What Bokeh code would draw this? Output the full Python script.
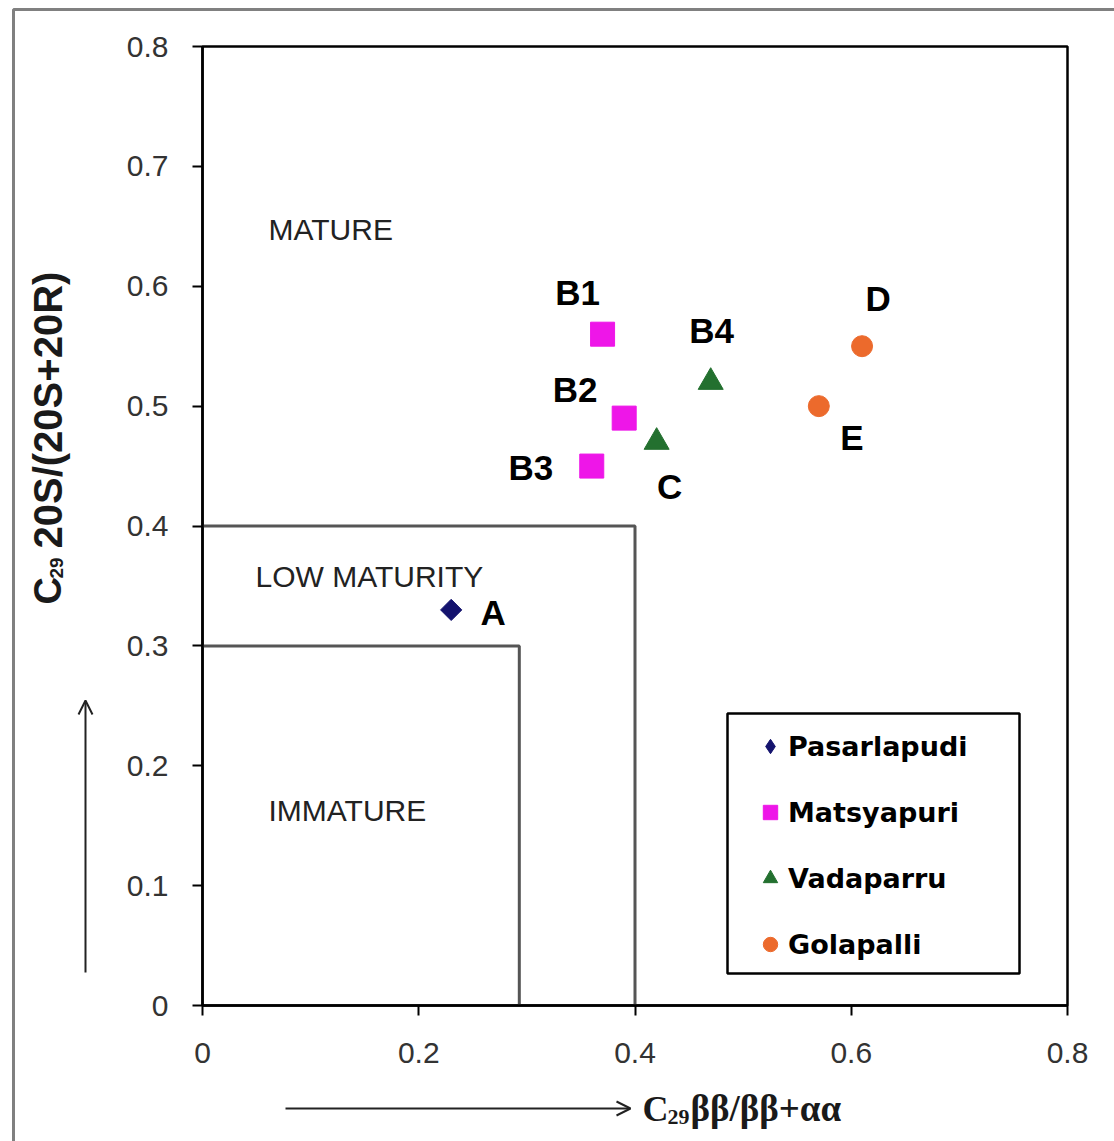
import math
from bokeh.plotting import figure
from bokeh.core.properties import value
from bokeh.models import (Range1d, FixedTicker, ColumnDataSource, LabelSet, Label,
                          Arrow, OpenHead, Legend, LegendItem, BoxAnnotation)
from bokeh.embed import file_html
from bokeh.resources import INLINE

# ---------------- data ----------------
sites = ["Pasarlapudi", "Matsyapuri", "Vadaparru", "Golapalli"]

pasarlapudi_x = [0.23]
pasarlapudi_y = [0.33]
pasarlapudi_names = ["A"]

matsyapuri_x = [0.37, 0.39, 0.36]
matsyapuri_y = [0.56, 0.49, 0.45]
matsyapuri_names = ["B1", "B2", "B3"]

vadaparru_x = [0.42, 0.47]
vadaparru_y = [0.47, 0.52]
vadaparru_names = ["C", "B4"]

golapalli_x = [0.61, 0.57]
golapalli_y = [0.55, 0.50]
golapalli_names = ["D", "E"]

# maturity zone boundaries
low_maturity_x = [0, 0.4, 0.4]
low_maturity_y = [0.4, 0.4, 0]
immature_x = [0, 0.293, 0.293]
immature_y = [0.3, 0.3, 0]

zone_names = ["MATURE", "LOW MATURITY", "IMMATURE"]

x_ticks = [0, 0.2, 0.4, 0.6, 0.8]
x_tick_labels = ["0", "0.2", "0.4", "0.6", "0.8"]
y_ticks = [0, 0.1, 0.2, 0.3, 0.4, 0.5, 0.6, 0.7, 0.8]
y_tick_labels = ["0", "0.1", "0.2", "0.3", "0.4", "0.5", "0.6", "0.7", "0.8"]

# ---------------- layout helpers ----------------
W, H = 1114, 1141
FL, FR, FT, FB = 202, 1067, 46, 1005   # pixel position of the 0..0.8 box
XMAX, YMAX = 0.8, 0.8


def dx(px):
    return (px - FL) / (FR - FL) * XMAX


def dy(py):
    return (FB - py) / (FB - FT) * YMAX


p = figure(width=W, height=H, output_backend="svg", toolbar_location=None,
           x_range=Range1d(dx(0), dx(W)), y_range=Range1d(dy(H), dy(0)),
           min_border=0)
p.background_fill_color = "white"
p.border_fill_color = "white"
p.outline_line_color = None
p.grid.visible = False

for ax, ticks, labels in ((p.xaxis[0], x_ticks, x_tick_labels), (p.yaxis[0], y_ticks, y_tick_labels)):
    ax.fixed_location = 0
    ax.bounds = (0, 0.8)
    ax.ticker = FixedTicker(ticks=ticks)
    ax.major_label_overrides = {t: l for t, l in zip(ticks, labels)}
    ax.axis_line_color = "black"
    ax.axis_line_width = 2.5
    ax.major_tick_line_color = "black"
    ax.major_tick_line_width = 2
    ax.major_tick_out = 10
    ax.major_tick_in = 0
    ax.minor_tick_line_color = None
    ax.major_label_text_font = "Liberation Sans"
    ax.major_label_text_font_size = "30px"
    ax.major_label_text_color = "#333333"
p.yaxis[0].major_label_standoff = 24
p.xaxis[0].major_label_standoff = 27

# chart box (top and right edges)
p.add_layout(BoxAnnotation(left=0, right=XMAX, bottom=0, top=YMAX, fill_alpha=0,
                           line_color="black", line_alpha=1, line_width=2.5, level="underlay"))

# zone boundaries
p.line(low_maturity_x, low_maturity_y, line_color="#555555", line_width=3)
p.line(immature_x, immature_y, line_color="#555555", line_width=3)

# zone labels
zone_pos = [(268, 229), (255, 576), (268, 810)]
for name, (px, py) in zip(zone_names, zone_pos):
    p.add_layout(Label(x=dx(px), y=dy(py), text=name, text_align="left", text_baseline="middle",
                       text_font="Liberation Sans", text_font_size="30px", text_color="#222222"))

# series
series = [
    (sites[0], pasarlapudi_x, pasarlapudi_y, pasarlapudi_names, "square", "#14136e", 15, math.pi / 4),
    (sites[1], matsyapuri_x, matsyapuri_y, matsyapuri_names, "square", "#ee16e8", 24, 0),
    (sites[2], vadaparru_x, vadaparru_y, vadaparru_names, "triangle", "#23702f", 25, 0),
    (sites[3], golapalli_x, golapalli_y, golapalli_names, "circle", "#ec6a2c", 21, 0),
]
legend_markers = ["diamond", "square", "triangle", "circle"]

# label offsets in screen pixels (layout only)
label_offsets = {"A": (42, -3), "B1": (-25, 42), "B2": (-49, 29), "B3": (-61, -1),
                 "C": (13, -44), "B4": (1, 52), "D": (16, 48), "E": (33, -31)}

items = []
for (name, xs, ys, names, marker, color, size, angle), lm in zip(series, legend_markers):
    src = ColumnDataSource(dict(x=xs, y=ys, name=names,
                                ox=[label_offsets[n][0] for n in names],
                                oy=[label_offsets[n][1] for n in names]))
    if lm != marker:
        # legend swatch: un-rotated diamond, hidden beneath the rotated square
        swatch = p.scatter("x", "y", source=src, marker=lm, size=13,
                           fill_color=color, line_color=color)
    r = p.scatter("x", "y", source=src, marker=marker, size=size, angle=angle,
                  fill_color=color, line_color=color)
    items.append(LegendItem(label=name, renderers=[swatch if lm != marker else r]))
    p.add_layout(LabelSet(x="x", y="y", text="name", source=src, x_offset="ox", y_offset="oy",
                          text_align="center", text_baseline="middle",
                          text_font=value("Liberation Sans"),
                          text_font_style="bold", text_font_size="35px", text_color="black"))

# legend box
p.add_layout(BoxAnnotation(left=dx(727), right=dx(1019), top=dy(713), bottom=dy(973),
                           fill_color="white", fill_alpha=1, line_color="black", line_alpha=1,
                           line_width=2.5))
legend = Legend(items=items, location=(752, H - 964), padding=0, margin=0, spacing=26,
                glyph_width=36, glyph_height=40, label_standoff=0, label_height=40,
                border_line_alpha=0, background_fill_alpha=0,
                label_text_font="DejaVu Sans", label_text_font_style="bold",
                label_text_font_size="27px", label_text_color="black")
p.add_layout(legend)

# y-axis title (rotated, composed with subscript)
SANS = "Liberation Sans"
p.add_layout(Label(x=dx(47), y=dy(604), text="C", angle=math.pi / 2, text_align="left",
                   text_baseline="middle", text_font=SANS, text_font_style="bold",
                   text_font_size="38px", text_color="#1a1a1a"))
p.add_layout(Label(x=dx(56), y=dy(578), text="29", angle=math.pi / 2, text_align="left",
                   text_baseline="middle", text_font=SANS, text_font_style="bold",
                   text_font_size="19px", text_color="#1a1a1a"))
p.add_layout(Label(x=dx(47), y=dy(548), text="20S/(20S+20R)", angle=math.pi / 2, text_align="left",
                   text_baseline="middle", text_font=SANS, text_font_style="bold",
                   text_font_size="40px", text_color="#1a1a1a"))

# x-axis title
SERIF = "Liberation Serif"
p.add_layout(Label(x=dx(642), y=dy(1108), text="C", text_align="left", text_baseline="middle",
                   text_font=SERIF, text_font_style="bold", text_font_size="36px", text_color="#1a1a1a"))
p.add_layout(Label(x=dx(667), y=dy(1116), text="29", text_align="left", text_baseline="middle",
                   text_font=SERIF, text_font_style="bold", text_font_size="22px", text_color="#1a1a1a"))
p.add_layout(Label(x=dx(690), y=dy(1108), text="ββ/ββ+αα", text_align="left", text_baseline="middle",
                   text_font=SERIF, text_font_style="bold", text_font_size="37px", text_color="#1a1a1a"))

# direction arrows
p.add_layout(Arrow(x_start=dx(85), y_start=dy(972), x_end=dx(85), y_end=dy(700),
                   line_color="#222222", line_width=2,
                   end=OpenHead(size=14, line_color="#222222", line_width=2)))
p.add_layout(Arrow(x_start=dx(285), y_start=dy(1108), x_end=dx(630), y_end=dy(1108),
                   line_color="#222222", line_width=2,
                   end=OpenHead(size=14, line_color="#222222", line_width=2)))

# outer image frame (only left and top edges fall inside the picture)
p.add_layout(BoxAnnotation(left=dx(13), top=dy(9), right=dx(W + 20), bottom=dy(H + 20),
                           fill_alpha=0, line_color="#808080", line_alpha=1, line_width=3))

open("out.html", "w").write(file_html(p, INLINE))
